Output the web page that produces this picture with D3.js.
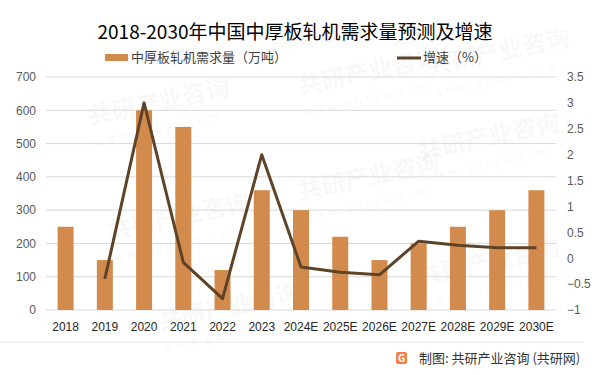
<!DOCTYPE html>
<html>
<head>
<meta charset="utf-8">
<script src="https://cdn.jsdelivr.net/npm/d3@7"></script>
<style>
  body { margin: 0; background: #fff; }
  svg { display: block; font-family: "Noto Sans CJK SC", "Noto Sans", sans-serif; }
</style>
</head>
<body>
<svg id="chart"></svg>
<script>
// chart data
var years = ["2018", "2019", "2020", "2021", "2022", "2023", "2024E", "2025E", "2026E", "2027E", "2028E", "2029E", "2030E"];
var demand = [250, 150, 600, 550, 120, 360, 300, 220, 150, 200, 250, 300, 360];
var growth = [null, -0.4, 3.0, -0.08, -0.78, 2.0, -0.17, -0.27, -0.32, 0.33, 0.25, 0.2, 0.2];
var leftTicks = [0, 100, 200, 300, 400, 500, 600, 700];
var rightTicks = [-1, -0.5, 0, 0.5, 1, 1.5, 2, 2.5, 3, 3.5];

var width = 602, height = 375;
var margin = {top: 77, right: 46, bottom: 65, left: 46};

var svg = d3.select('#chart')
    .attr('width', width)
    .attr('height', height);

// faint watermarks (kept inside the picture)
var marks = [[90, 125], [300, 95], [430, 75], [110, 240], [300, 200], [420, 160], [160, 330], [420, 285]];
marks.forEach(function(p) {
    var g = svg.append('g')
        .attr('transform', 'translate(' + p[0] + ',' + p[1] + ') rotate(-12)')
        .attr('fill', '#000')
        .attr('opacity', 0.025);
    g.append('text').text('共研产业咨询')
        .style('font-size', '24px').style('font-weight', 'bold');
    g.append('text').attr('y', 22).text('w w w . g o n y n . c o m')
        .style('font-size', '12px');
});

var xStep = d3.scaleBand().domain(years).range([margin.left, width - margin.right]);
var yL = d3.scaleLinear().domain([0, 700]).range([height - margin.bottom, margin.top]);
var yR = d3.scaleLinear().domain([-1, 3.5]).range([height - margin.bottom, margin.top]);

// gridlines
svg.append('g')
    .selectAll('line')
    .data(leftTicks)
    .enter().append('line')
    .attr('x1', margin.left).attr('x2', width - margin.right)
    .attr('y1', function(d) { return yL(d); })
    .attr('y2', function(d) { return yL(d); })
    .attr('stroke', '#d9d9d9')
    .attr('stroke-width', 1);

// left axis
var gyL = svg.append('g')
    .attr('transform', 'translate(' + (margin.left - 10) + ',0)')
    .call(d3.axisLeft(yL).tickValues(leftTicks).tickSize(0).tickPadding(0));
gyL.select('.domain').remove();
gyL.selectAll('text').attr('fill', '#595959').style('font-size', '12px').style('font-family', 'Liberation Sans, sans-serif');

// right axis
var gyR = svg.append('g')
    .attr('transform', 'translate(' + (width - margin.right + 11) + ',0)')
    .call(d3.axisRight(yR).tickValues(rightTicks).tickFormat(d3.format('~g')).tickSize(0).tickPadding(0));
gyR.select('.domain').remove();
gyR.selectAll('text').attr('fill', '#595959').style('font-size', '12px').style('font-family', 'Liberation Sans, sans-serif');

// x axis
var gx = svg.append('g')
    .attr('transform', 'translate(0,' + (height - margin.bottom + 10) + ')')
    .call(d3.axisBottom(xStep).tickSize(0).tickPadding(0));
gx.select('.domain').remove();
gx.selectAll('text').attr('fill', '#262626').attr('dy', '0.9em').style('font-size', '12px').style('font-family', 'Liberation Sans, sans-serif');

// bars
var barW = 16;
svg.append('g')
    .selectAll('rect')
    .data(demand)
    .enter().append('rect')
    .attr('x', function(d, i) { return xStep(years[i]) + xStep.bandwidth() / 2 - barW / 2; })
    .attr('y', function(d) { return yL(d); })
    .attr('width', barW)
    .attr('height', function(d) { return yL(0) - yL(d); })
    .attr('fill', '#d38b4d');

// growth line
var line = d3.line()
    .defined(function(d) { return d !== null; })
    .x(function(d, i) { return xStep(years[i]) + xStep.bandwidth() / 2; })
    .y(function(d) { return yR(d); });

svg.append('path')
    .datum(growth)
    .attr('d', line)
    .attr('fill', 'none')
    .attr('stroke', '#5f4328')
    .attr('stroke-width', 3)
    .attr('stroke-linejoin', 'round');

// title
svg.append('text')
    .attr('x', 295).attr('y', 39)
    .attr('text-anchor', 'middle')
    .attr('fill', '#000')
    .style('font-size', '19px')
    .text('2018-2030年中国中厚板轧机需求量预测及增速');

// legend
svg.append('rect')
    .attr('x', 105).attr('y', 54).attr('width', 23).attr('height', 7)
    .attr('fill', '#d38b4d');
svg.append('text')
    .attr('x', 131).attr('y', 62)
    .attr('fill', '#404040')
    .style('font-size', '13px')
    .text('中厚板轧机需求量（万吨）');
svg.append('line')
    .attr('x1', 397).attr('x2', 421).attr('y1', 58).attr('y2', 58)
    .attr('stroke', '#5f4328').attr('stroke-width', 3);
svg.append('text')
    .attr('x', 423).attr('y', 62)
    .attr('fill', '#404040')
    .style('font-size', '13px')
    .text('增速（%）');

// footer
svg.append('line')
    .attr('x1', 0).attr('x2', 583).attr('y1', 342).attr('y2', 342)
    .attr('stroke', '#e6e6e6').attr('stroke-width', 1);

var logo = svg.append('g').attr('transform', 'translate(396,352)');
logo.append('rect').attr('width', 11).attr('height', 12).attr('rx', 2).attr('fill', '#f07f4a');
logo.append('text').attr('x', 5.5).attr('y', 10).attr('text-anchor', 'middle')
    .attr('fill', '#fff').style('font-size', '10px').style('font-weight', 'bold').text('G');

svg.append('text')
    .attr('x', 419).attr('y', 363)
    .attr('fill', '#333')
    .style('font-size', '13px')
    .text('制图: 共研产业咨询 (共研网)');
</script>
</body>
</html>
